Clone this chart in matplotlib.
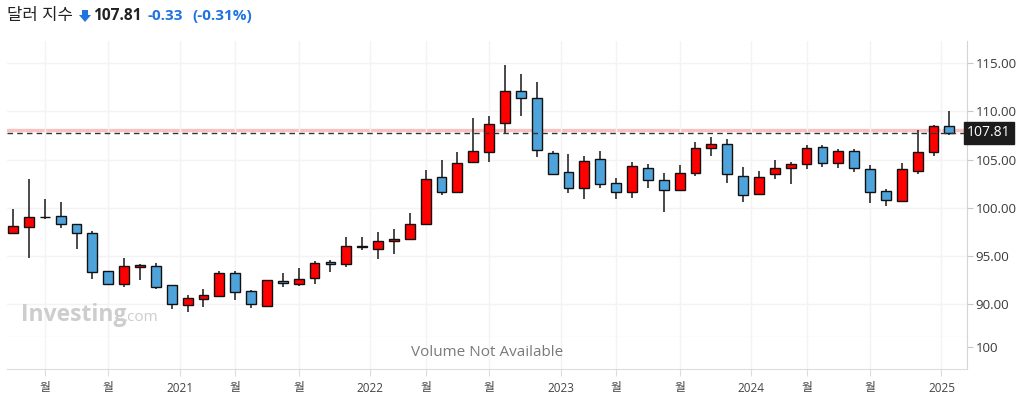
import numpy as np
import pandas as pd
import matplotlib
matplotlib.use("Agg")
import matplotlib.pyplot as plt
from matplotlib.patches import Polygon
from matplotlib.transforms import blended_transform_factory

plt.rcParams['font.family'] = ['Open Sans', 'Noto Sans CJK KR', 'DejaVu Sans']

# monthly US dollar index candles, Feb 2020 .. Jan 2025
months = pd.date_range('2020-02-01', periods=60, freq='MS')
opens = [97.35, 98.03, 99.00, 99.14, 98.30, 97.38, 93.43, 92.12, 93.82, 93.92, 91.95,
         89.87, 90.50, 90.87, 93.20, 91.36, 89.77, 92.37, 92.05, 92.68, 94.36, 94.13, 96.00,
         95.68, 96.55, 96.72, 98.28, 103.15, 101.66, 104.70, 105.76, 108.76, 112.10, 111.45, 105.64,
         103.67, 102.10, 105.05, 102.53, 101.60, 104.10, 102.87, 101.84, 103.57, 106.20, 106.58, 103.32,
         101.38, 103.46, 104.09, 104.50, 106.27, 104.60, 105.88, 103.98, 101.73, 100.70, 103.80, 105.80,
         108.44]
highs = [99.87, 102.98, 100.87, 100.56, 98.35, 97.58, 93.45, 94.81, 94.16, 94.26, 92.00,
         90.94, 91.60, 93.43, 93.43, 91.45, 92.50, 93.23, 93.74, 94.47, 94.60, 96.99, 96.99,
         97.48, 97.77, 99.42, 103.91, 104.95, 105.80, 109.28, 109.52, 114.82, 113.87, 113.10, 105.88,
         105.57, 105.36, 105.90, 103.05, 104.74, 104.53, 103.57, 104.43, 106.78, 107.30, 107.10, 104.19,
         103.80, 104.95, 104.77, 106.50, 106.50, 106.05, 106.10, 104.43, 101.94, 104.60, 108.06, 108.58,
         110.07]
lows = [97.35, 94.75, 98.83, 97.93, 95.72, 92.64, 91.98, 91.80, 92.53, 91.57, 89.49,
        89.21, 89.73, 90.70, 90.42, 89.63, 89.65, 91.80, 91.90, 92.05, 93.36, 93.88, 95.60,
        94.68, 95.20, 96.60, 98.28, 101.35, 101.60, 104.65, 104.70, 107.80, 109.56, 105.30, 103.40,
        101.55, 100.87, 102.00, 100.87, 101.00, 102.00, 99.58, 101.70, 103.30, 105.40, 102.53, 100.62,
        101.30, 102.94, 102.43, 103.98, 104.19, 104.09, 103.67, 100.52, 100.20, 100.56, 103.46, 105.40,
        107.60]
closes = [98.10, 99.00, 99.02, 98.30, 97.34, 93.30, 92.12, 93.92, 94.02, 91.80, 89.98,
          90.60, 90.94, 93.20, 91.22, 89.98, 92.47, 92.16, 92.57, 94.23, 94.13, 96.03, 95.96,
          96.50, 96.70, 98.28, 102.95, 101.66, 104.60, 105.88, 108.66, 112.10, 111.45, 105.98, 103.46,
          102.10, 104.84, 102.43, 101.60, 104.30, 102.87, 101.84, 103.57, 106.16, 106.60, 103.47, 101.32,
          103.20, 104.09, 104.50, 106.16, 104.60, 105.88, 104.09, 101.66, 100.80, 103.98, 105.74, 108.44,
          107.81]

last_price = 107.81
prev_line = 108.08
change = '-0.33'
change_pct = '(-0.31%)'

up_color = '#ff0000'
down_color = '#4ea3db'
blue_text = '#1f74df'

W, H = 1020, 395
fig = plt.figure(figsize=(W / 100, H / 100), dpi=100)

def box(x0, y0, x1, y1):
    return [x0 / W, 1 - y1 / H, (x1 - x0) / W, (y1 - y0) / H]

ax = fig.add_axes(box(7, 41, 967, 337))
axv = fig.add_axes(box(7, 337, 967, 369), sharex=ax)

x = np.arange(len(months))
o = np.array(opens)
c = np.array(closes)
colors = [up_color if cc >= oo else down_color for oo, cc in zip(o, c)]
bottoms = np.minimum(o, c)
heights = np.maximum(np.abs(c - o), 0.02)

ax.vlines(x, lows, highs, color='#2a2a2a', lw=1.2, zorder=2)
ax.bar(x, heights, bottom=bottoms, width=0.62, color=colors, edgecolor='#111111',
       linewidth=1.0, zorder=3)

ax.axhline(prev_line, color='#f7c2c2', lw=2.4, zorder=1)
ax.axhline(last_price, color='#333333', lw=1.0, ls=(0, (4, 3)), zorder=4)

# ticks: year at boundary, "월" on Apr / Aug candles
tick_pos, tick_lab = [], []
for i, m in enumerate(months):
    if m.month == 1:
        tick_pos.append(i - 0.5)
        tick_lab.append(str(m.year))
    elif m.month in (4, 8):
        tick_pos.append(i)
        tick_lab.append('월')

ax.set_xlim(-0.38, 60.11)
ax.set_ylim(86.57, 117.32)
ax.set_xticks(tick_pos)
ax.tick_params(axis='x', length=0, labelbottom=False)
ax.yaxis.tick_right()
ax.set_yticks([90, 95, 100, 105, 110, 115])
ax.set_yticklabels(['90.00', '95.00', '100.00', '105.00', '110.00', '115.00'])
ax.tick_params(axis='y', length=4, color='#c8c8c8', labelcolor='#3a3a3a', labelsize=9.5, pad=2)
ax.grid(True, color='#f3f3f3', lw=1, zorder=0)
for s in ['left', 'top']:
    ax.spines[s].set_visible(False)
ax.spines['right'].set_color('#d4d4d4')
ax.spines['bottom'].set_color('#cfcfcf')

axv.set_ylim(0, 142.86)
axv.yaxis.tick_right()
axv.set_yticks([100])
axv.set_yticklabels(['100'])
axv.tick_params(axis='y', length=4, color='#c8c8c8', labelcolor='#3a3a3a', labelsize=9.5, pad=2)
axv.set_xticks(tick_pos)
axv.set_xticklabels(tick_lab)
axv.tick_params(axis='x', length=5, color='#dddddd', labelcolor='#444444', labelsize=8.5, pad=4)
axv.grid(True, axis='x', color='#f3f3f3', lw=1, zorder=0)
for s in ['left', 'top']:
    axv.spines[s].set_visible(False)
axv.spines['right'].set_color('#d4d4d4')
axv.spines['bottom'].set_color('#dcdcdc')
axv.text(0.5, 0.5, 'Volume Not Available', transform=axv.transAxes, ha='center', va='center',
         fontsize=11, color='#7a7a7a')

# price label on the right axis
tr = blended_transform_factory(ax.transAxes, ax.transData)
ax.text(1.0, last_price, f'{last_price:.2f}', transform=tr, ha='left', va='center',
        fontsize=10, color='white', zorder=6, clip_on=False,
        bbox=dict(boxstyle='square,pad=0.25', fc='#1c1c1c', ec='#1c1c1c'))

# watermark
fig.text(21 / W, 1 - 321 / H, 'Investing', fontsize=16.5, fontweight='bold', color='#cdcdcd',
         va='baseline', ha='left')
fig.text(124 / W, 1 - 321 / H, '.com', fontsize=11, color='#cdcdcd', va='baseline', ha='left')

# header
hy = 1 - 16 / H
fig.text(7 / W, hy, '달러 지수', fontsize=12, color='#222222', va='center', ha='left')
arrow = Polygon([[82 / W, 1 - 10 / H], [88 / W, 1 - 10 / H], [88 / W, 1 - 15 / H],
                 [91 / W, 1 - 15 / H], [85 / W, 1 - 22 / H], [79 / W, 1 - 15 / H],
                 [82 / W, 1 - 15 / H]], closed=True, transform=fig.transFigure,
                fc=blue_text, ec='none')
fig.patches.append(arrow)
fig.text(93 / W, hy, f'{last_price:.2f}', fontsize=11.2, fontweight='bold', color='#222222',
         va='center', ha='left')
fig.text(148 / W, hy, change, fontsize=11, fontweight='bold', color=blue_text,
         va='center', ha='left')
fig.text(192 / W, hy, change_pct, fontsize=11, fontweight='bold', color=blue_text,
         va='center', ha='left')

fig.savefig('out.png', dpi=100, facecolor='white')
